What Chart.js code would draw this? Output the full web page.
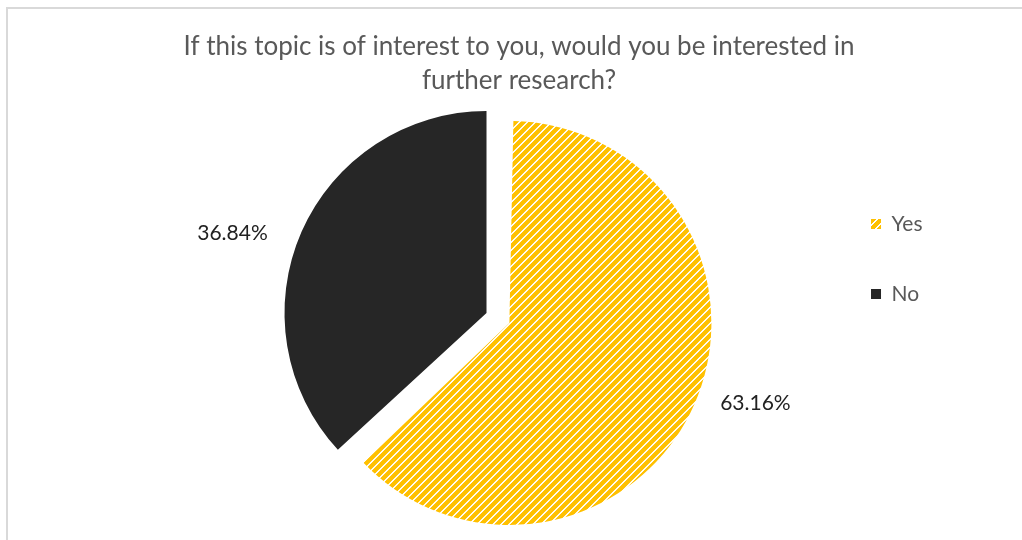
<!DOCTYPE html>
<html lang="en">
<head>
  <meta charset="UTF-8" />
  <title>Further research interest</title>
  <script src="https://cdn.jsdelivr.net/npm/chart.js"></script>
  <style>
    body {
      margin: 0;
      background: #fff;
      overflow: hidden;
    }
    .frame {
      position: absolute;
      left: 6px;
      top: 7px;
      border-top: 2px solid #d9d9d9;
      border-left: 2px solid #d9d9d9;
    }
    canvas { display: block; }
  </style>
</head>
<body>
<div class="frame">
  <canvas id="pieChart" width="1014" height="531"></canvas>
</div>

<script>
  const titleLines = ["If this topic is of interest to you, would you be interested in", "further research?"];
  const answers = ["Yes", "No"];
  const shares = [63.16, 36.84];

  // upward diagonal hatch, 8px tile
  function hatch(color) {
    const c = document.createElement("canvas");
    c.width = 8; c.height = 8;
    const g = c.getContext("2d");
    g.fillStyle = "#fff";
    g.fillRect(0, 0, 8, 8);
    g.fillStyle = color;
    for (let y = 0; y < 8; y++) {
      for (let x = 0; x < 8; x++) {
        if ((x + y) % 8 < 6) g.fillRect(x, y, 1, 1);
      }
    }
    return document.getElementById("pieChart").getContext("2d").createPattern(c, "repeat");
  }

  // chart.js grows big exploded slices by offset/4; undo that so the radius stays the same
  const keepRadius = {
    id: "keepRadius",
    afterDatasetUpdate(chart, args) {
      args.meta.data.forEach(arc => {
        const off = (arc.options.offset || 0) / 4;
        const fix = 1 - Math.sin(Math.min(Math.PI, arc.circumference));
        arc.outerRadius -= off * fix;
      });
    }
  };

  // percent labels outside each slice
  const sliceLabels = {
    id: "sliceLabels",
    afterDatasetsDraw(chart) {
      const ctx = chart.ctx;
      const meta = chart.getDatasetMeta(0);
      ctx.save();
      ctx.font = "21px Lato";
      ctx.fillStyle = "#222";
      ctx.textAlign = "center";
      ctx.textBaseline = "middle";
      meta.data.forEach((arc, i) => {
        const p = arc.getProps(["x", "y", "startAngle", "endAngle", "outerRadius"]);
        const off = (arc.options.offset || 0) / 4;
        const half = (p.startAngle + p.endAngle) / 2;
        const cx = p.x + Math.cos(half) * off;
        const cy = p.y + Math.sin(half) * off;
        const r = 202 * 1.3;
        const a = half - 5.9 * Math.PI / 180;
        ctx.fillText(shares[i].toFixed(2) + "%", cx + Math.cos(a) * r - 4, cy + Math.sin(a) * r);
      });
      ctx.restore();
    }
  };

  new Chart(document.getElementById("pieChart"), {
    type: "pie",
    data: {
      labels: answers,
      datasets: [{
        data: shares,
        backgroundColor: [hatch("#ffc000"), "#262626"],
        borderWidth: 0,
        offset: [100, 0]
      }]
    },
    options: {
      responsive: false,
      animation: false,
      radius: 202,
      layout: { padding: { top: 14, bottom: 25, left: 97.5, right: 89.5 } },
      plugins: {
        title: {
          display: true,
          text: titleLines,
          color: "#595959",
          font: { family: "Lato", size: 26, weight: "normal", lineHeight: 34 / 26 },
          padding: { top: 7, bottom: 13 }
        },
        // empty spacer on the left so the pie sits left of the title centre
        subtitle: {
          display: true,
          position: "left",
          fullSize: false,
          text: "",
          font: { size: 10, lineHeight: 1 },
          padding: { top: 35.5, bottom: 0 }
        },
        legend: {
          position: "right",
          align: "start",
          title: { display: true, text: "", padding: { top: 131.5, bottom: 0 }, font: { size: 10, lineHeight: 1 } },
          labels: {
            boxWidth: 10,
            boxHeight: 10,
            padding: 49,
            color: "#595959",
            font: { family: "Lato", size: 21 }
          }
        },
        tooltip: { enabled: false }
      }
    },
    plugins: [keepRadius, sliceLabels]
  });
</script>
</body>
</html>
